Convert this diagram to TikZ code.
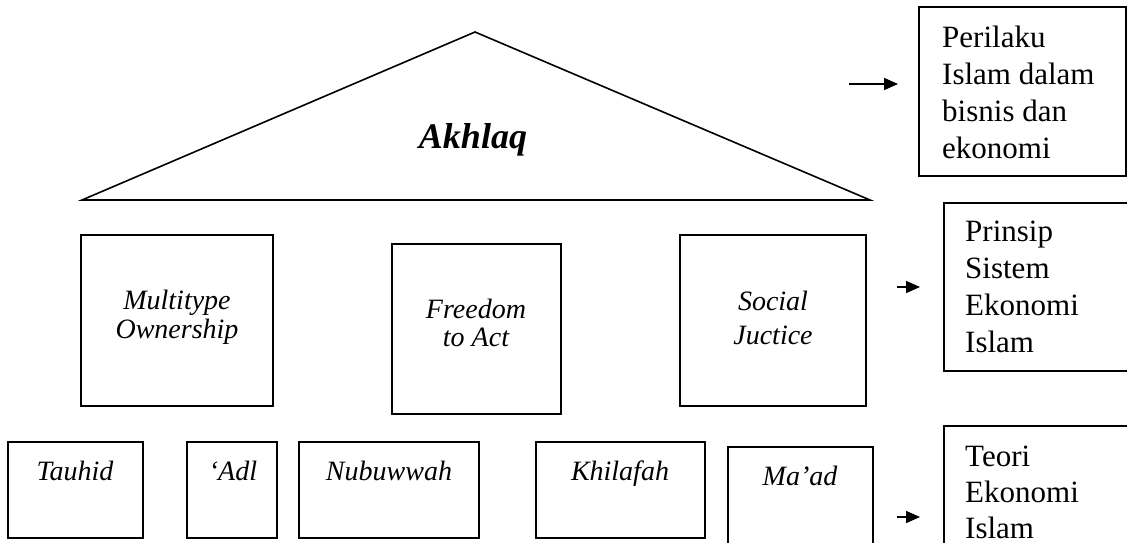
\documentclass[tikz,border=0pt]{standalone}
\usepackage{fontspec}
\setmainfont{Liberation Serif}
\usetikzlibrary{arrows.meta}
\begin{document}
\begin{tikzpicture}[x=1pt,y=-1pt,
  box/.style={draw, line width=1.6pt, inner sep=0pt},
  itx/.style={font=\fontsize{28}{29}\selectfont\itshape, align=center, inner sep=0pt, anchor=base},
  rtx/.style={font=\fontsize{31}{37}\selectfont, align=left, inner sep=0pt, anchor=base west},
  arr/.style={line width=1.6pt, -{Triangle[length=14pt,width=12pt]}}]
\useasboundingbox (0,0) rectangle (1127,543);
\clip (0,0) rectangle (1127,543);
\fill[white] (0,0) rectangle (1127,543);
% roof
\coordinate (tl) at (82,200);
\coordinate (tt) at (475,32);
\coordinate (tr) at (870,200);
\draw[line width=1.6pt, line join=miter] (tl) -- (tt) -- (tr) -- cycle;
\node[font=\fontsize{36}{40}\selectfont\bfseries\itshape, inner sep=0pt, anchor=base] (akh) at (473,148) {Akhlaq};
% pillars
\draw[box] (81,235) rectangle (273,406) coordinate (b1);
\node[itx] (t1) at (177,338) {Multitype\\Ownership};
\draw[box] (392,244) rectangle (561,414) coordinate (b2);
\node[itx, font=\fontsize{28}{28}\selectfont\itshape] (t2) at (476,346) {Freedom\\to Act};
\draw[box] (680,235) rectangle (866,406) coordinate (b3);
\node[itx, font=\fontsize{28}{34}\selectfont\itshape] (t3) at (773,344) {Social\\Juctice};
% foundations
\draw[box] (8,442) rectangle (143,538);
\node[itx] (f1) at (75,480) {Tauhid};
\draw[box] (187,442) rectangle (277,538);
\node[itx] (f2) at (233,480) {‘Adl};
\draw[box] (299,442) rectangle (479,538);
\node[itx] (f3) at (389,480) {Nubuwwah};
\draw[box] (536,442) rectangle (705,538);
\node[itx] (f4) at (620,480) {Khilafah};
\draw[box] (728,447) rectangle (873,560);
\node[itx] (f5) at (800,485) {Ma’ad};
% right boxes
\draw[box] (919,7) rectangle (1126,176);
\node[rtx] (r1) at (942,158) {Perilaku\\Islam dalam\\bisnis dan\\ekonomi};
\draw[box] (944,203) rectangle (1140,371);
\node[rtx] (r2) at (965,352) {Prinsip\\Sistem\\Ekonomi\\Islam};
\draw[box] (944,426) rectangle (1140,600);
\node[rtx, font=\fontsize{31}{36}\selectfont] (r3) at (965,538) {Teori\\Ekonomi\\Islam};
% arrows
\coordinate (a1s) at (849,84); \coordinate (a1e) at (898,84);
\coordinate (a2s) at (897,287); \coordinate (a2e) at (920,287);
\coordinate (a3s) at (897,517); \coordinate (a3e) at (920,517);
\draw[arr] (a1s) -- (a1e);
\draw[arr] (a2s) -- (a2e);
\draw[arr] (a3s) -- (a3e);
\end{tikzpicture}
\end{document}
